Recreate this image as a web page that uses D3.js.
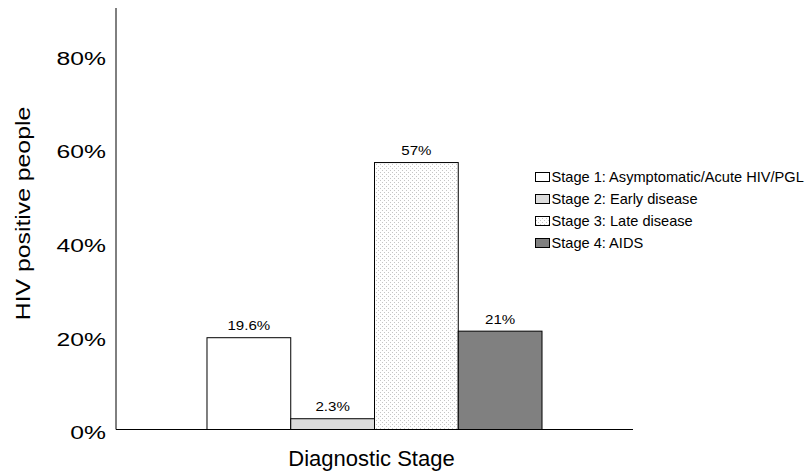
<!DOCTYPE html>
<html>
<head>
<meta charset="utf-8">
<script src="https://cdn.jsdelivr.net/npm/d3@7"></script>
<style>
  html, body { margin: 0; padding: 0; background: #fff; }
  svg { display: block; font-family: "Liberation Sans", Arial, sans-serif; }
</style>
</head>
<body>
<svg id="chart" width="811" height="472"></svg>
<script>
// ---- data ----
const categories = ["Diagnostic Stage"];
const seriesNames = [
  "Stage 1: Asymptomatic/Acute HIV/PGL",
  "Stage 2: Early disease",
  "Stage 3: Late disease",
  "Stage 4: AIDS"
];
const seriesValues = [0.196, 0.023, 0.57, 0.21];
const valueLabels = ["19.6%", "2.3%", "57%", "21%"];
const yTicks = [0, 0.2, 0.4, 0.6, 0.8];
const yTickLabels = ["0%", "20%", "40%", "60%", "80%"];
const yTitle = "HIV positive people";

// ---- layout ----
const svg = d3.select("#chart");
const plot = { left: 116, right: 633, top: 8, bottom: 429.5 };

const defs = svg.append("defs");
const pat = defs.append("pattern").attr("id", "dots")
  .attr("patternUnits", "userSpaceOnUse").attr("width", 4).attr("height", 4);
pat.append("rect").attr("width", 4).attr("height", 4).attr("fill", "#fff");
pat.append("rect").attr("x", 1).attr("y", 0).attr("width", 1).attr("height", 1).attr("fill", "#c4c4c4");
pat.append("rect").attr("x", 3).attr("y", 2).attr("width", 1).attr("height", 1).attr("fill", "#c4c4c4");

const fills = ["#ffffff", "#dcdcdc", "url(#dots)", "#808080"];

const y = d3.scaleLinear().domain([0, 0.9]).range([plot.bottom, plot.top]);
const x0 = d3.scaleBand().domain(categories).range([plot.left, plot.right])
  .paddingInner(0).paddingOuter(0.2716);
const x1 = d3.scaleBand().domain(seriesNames).range([0, x0.bandwidth()]).padding(0);

// bars
const g = svg.append("g").attr("transform", `translate(${x0(categories[0])},0)`);
g.selectAll("rect.bar").data(seriesNames).join("rect")
  .attr("class", "bar")
  .attr("x", d => x1(d))
  .attr("y", (d, i) => y(seriesValues[i]))
  .attr("width", x1.bandwidth())
  .attr("height", (d, i) => y(0) - y(seriesValues[i]))
  .attr("fill", (d, i) => fills[i])
  .attr("stroke", "#000").attr("stroke-width", 1);

// value labels
g.selectAll("text.val").data(seriesNames).join("text")
  .attr("class", "val")
  .attr("transform", (d, i) => `translate(${x1(d) + x1.bandwidth() / 2},${y(seriesValues[i]) - 7.5}) scale(1.18,1)`)
  .attr("text-anchor", "middle")
  .attr("font-size", 12.8)
  .attr("fill", "#000")
  .text((d, i) => valueLabels[i]);

// axes lines
const yAxis = d3.axisLeft(y).tickValues(yTicks).tickSize(0).tickFormat("");
svg.append("g").attr("transform", `translate(${plot.left},0)`).call(yAxis)
  .call(s => s.select(".domain").attr("d", `M0,${plot.top}V${plot.bottom}`).attr("stroke", "#000"));
svg.append("line")
  .attr("x1", plot.left).attr("x2", plot.right)
  .attr("y1", plot.bottom).attr("y2", plot.bottom)
  .attr("stroke", "#000").attr("stroke-width", 1);

// y tick labels
svg.selectAll("text.ytick").data(yTicks).join("text")
  .attr("class", "ytick")
  .attr("transform", d => `translate(106,${y(d) + 3.5}) scale(1.3,1)`)
  .attr("text-anchor", "end")
  .attr("dominant-baseline", "central")
  .attr("font-size", 19)
  .attr("fill", "#000")
  .text((d, i) => yTickLabels[i]);

// y title
svg.append("text")
  .attr("transform", `translate(30,213.5) rotate(-90) scale(1.18,1)`)
  .attr("text-anchor", "middle")
  .attr("font-size", 21)
  .attr("fill", "#000")
  .text(yTitle);

// x title
svg.append("text")
  .attr("x", (plot.left + plot.right) / 2 - 3)
  .attr("y", 466)
  .attr("text-anchor", "middle")
  .attr("font-size", 22)
  .attr("fill", "#000")
  .text(categories[0]);

// legend
const leg = svg.append("g").attr("transform", "translate(535,172)");
const rowH = 22;
seriesNames.forEach((name, i) => {
  const r = leg.append("g").attr("transform", `translate(0,${i * rowH})`);
  r.append("rect").attr("x", 0.5).attr("y", 0.5).attr("width", 14).attr("height", 9)
    .attr("fill", fills[i]).attr("stroke", "#000").attr("stroke-width", 1);
  r.append("text").attr("x", 16.5).attr("y", 10)
    .attr("font-size", 14.6).attr("fill", "#000").text(name);
});
</script>
</body>
</html>
